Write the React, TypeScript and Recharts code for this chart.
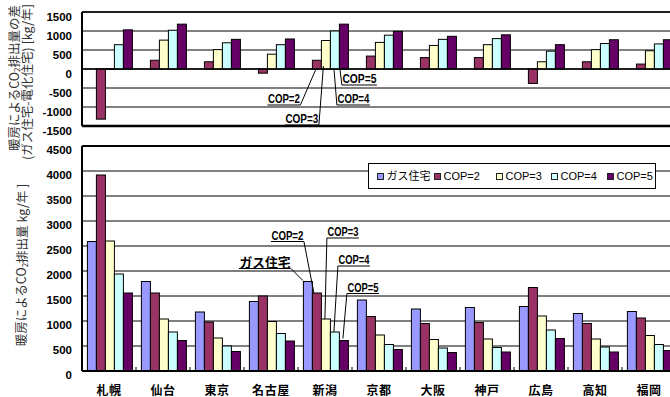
import { BarChart, Bar, XAxis, YAxis, CartesianGrid, ReferenceLine } from "recharts";

const cities = ["札幌", "仙台", "東京", "名古屋", "新潟", "京都", "大阪", "神戸", "広島", "高知", "福岡"];

// 暖房によるCO2排出量 [kg/年]
const gasHouse = [2590, 1790, 1180, 1390, 1790, 1420, 1240, 1270, 1290, 1150, 1190];
const electricCop2 = [3920, 1560, 980, 1500, 1560, 1090, 950, 970, 1670, 950, 1060];
const electricCop3 = [2600, 1040, 660, 990, 1040, 720, 630, 640, 1100, 640, 710];
const electricCop4 = [1940, 780, 500, 750, 780, 530, 460, 470, 820, 480, 530];
const electricCop5 = [1560, 610, 390, 600, 610, 430, 370, 380, 650, 380, 410];

// ガス住宅 - 電化住宅 [kg/年]
const diffCop2 = [-1320, 230, 190, -110, 230, 340, 300, 300, -380, 190, 130];
const diffCop3 = [-10, 760, 510, 390, 750, 700, 620, 640, 190, 510, 480];
const diffCop4 = [640, 1020, 690, 640, 1000, 890, 780, 800, 470, 670, 660];
const diffCop5 = [1030, 1180, 780, 790, 1180, 990, 860, 900, 640, 770, 770];

const diffTicks = [-1500, -1000, -500, 0, 500, 1000, 1500];
const emissionTicks = [0, 500, 1000, 1500, 2000, 2500, 3000, 3500, 4000, 4500];

const seriesKeys = ["gas", "cop2", "cop3", "cop4", "cop5"];
const seriesNames = ["ガス住宅", "COP=2", "COP=3", "COP=4", "COP=5"];
const seriesColors = ["#9999FF", "#993366", "#FFFFCC", "#CCFFFF", "#660066"];

const emissions = cities.map((city, i) => ({
  city,
  gas: gasHouse[i],
  cop2: electricCop2[i],
  cop3: electricCop3[i],
  cop4: electricCop4[i],
  cop5: electricCop5[i],
}));

const differences = cities.map((city, i) => ({
  city,
  cop2: diffCop2[i],
  cop3: diffCop3[i],
  cop4: diffCop4[i],
  cop5: diffCop5[i],
}));

const NUM_FONT = "'Liberation Sans', Arial, sans-serif";
const JP_FONT = "'Noto Sans CJK JP', 'Noto Sans', sans-serif";
const NARROW_FONT = "'Liberation Sans Narrow', 'Arial Narrow', 'Liberation Sans', sans-serif";

type Callout = {
  anchor: "top" | "bottom";
  from: [number, number];
  to: [number, number];
  side: "left" | "right";
  text: string;
  width: number;
};

const CALLOUT_CITY = "新潟";

// leader lines on the 新潟 bars, offsets from bar centre
const diffCallouts: Record<string, Callout> = {
  cop2: { anchor: "bottom", from: [-0.5, -1], to: [-16.5, 36], side: "left", text: "COP=2", width: 33 },
  cop3: { anchor: "bottom", from: [-2.5, -3], to: [-7, 56], side: "left", text: "COP=3", width: 34 },
  cop4: { anchor: "bottom", from: [-1, -1], to: [2, 36], side: "right", text: "COP=4", width: 33 },
  cop5: { anchor: "bottom", from: [-4, 0], to: [-2, 16], side: "right", text: "COP=5", width: 35 },
};

const emissionCallouts: Record<string, Callout> = {
  gas: { anchor: "top", from: [-5, -1], to: [-17, -13], side: "left", text: "ガス住宅", width: 52 },
  cop2: { anchor: "top", from: [-3, 0], to: [-13, -51.5], side: "left", text: "COP=2", width: 33 },
  cop3: { anchor: "top", from: [-1, 0], to: [1, -81], side: "right", text: "COP=3", width: 32 },
  cop4: { anchor: "top", from: [-1, 0], to: [3, -66], side: "right", text: "COP=4", width: 32 },
  cop5: { anchor: "top", from: [-1, -2], to: [3, -47], side: "right", text: "COP=5", width: 32 },
};

function CalloutMark({ cx, ay, c }: { cx: number; ay: number; c: Callout }) {
  const x1 = cx + c.from[0];
  const y1 = ay + c.from[1];
  const x2 = cx + c.to[0];
  const y2 = ay + c.to[1];
  const u1 = c.side === "left" ? x2 - c.width : x2;
  const u2 = c.side === "left" ? x2 : x2 + c.width;
  const cjk = /[^\x00-\x7f]/.test(c.text);
  return (
    <g>
      <line x1={x1} y1={y1} x2={x2} y2={y2} stroke="#000" strokeWidth={1} />
      <line x1={u1} y1={y2} x2={u2} y2={y2} stroke="#000" strokeWidth={1.2} />
      <text
        x={u1 + 0.5}
        y={y2 - 2}
        fontSize={cjk ? 13 : 12.5}
        fontWeight="bold"
        fontFamily={cjk ? JP_FONT : NARROW_FONT}
        textLength={c.width - 1}
        lengthAdjust="spacingAndGlyphs"
        fill="#000"
      >
        {c.text}
      </text>
    </g>
  );
}

const barShape = (callout?: Callout) => (props: any) => {
  const { x, y, width, height, fill, payload } = props;
  if (![x, y, width, height].every((v) => Number.isFinite(v))) return <g />;
  const top = Math.min(y, y + height);
  const h = Math.abs(height);
  const cx = x + width / 2;
  return (
    <g>
      {h > 0 && <rect x={x} y={top} width={width} height={h} fill={fill} stroke="#000" strokeWidth={1} />}
      {callout && payload?.city === CALLOUT_CITY && (
        <CalloutMark cx={cx} ay={callout.anchor === "top" ? top : top + h} c={callout} />
      )}
    </g>
  );
};

const valueTick = (dy: number) => (props: any) => {
  const { x, y, payload } = props;
  return (
    <text
      x={x}
      y={y + dy}
      textAnchor="end"
      dominantBaseline="central"
      fontSize={11.5}
      fontWeight="bold"
      fontFamily={NUM_FONT}
      fill="#000"
    >
      {payload.value}
    </text>
  );
};

const CityTick = (props: any) => {
  const { x, y, payload } = props;
  const half = payload?.offset ?? 27;
  const axisY = y - 8;
  return (
    <g>
      <line x1={x - half} x2={x - half} y1={axisY} y2={axisY - 4} stroke="#000" strokeWidth={1} />
      <text
        x={x}
        y={y + 10.5}
        textAnchor="middle"
        dominantBaseline="central"
        fontSize={12}
        fontWeight="bold"
        letterSpacing={0.6}
        fontFamily={JP_FONT}
        fill="#000"
      >
        {payload.value}
      </text>
    </g>
  );
};

const legendWidths = [57, 62, 55, 56, 48];

const SeriesLegend = () => (
  <div
    style={{
      position: "absolute",
      left: 368,
      top: 163,
      width: 288,
      height: 26,
      boxSizing: "border-box",
      border: "1.5px solid #000",
      background: "#fff",
      display: "flex",
      alignItems: "center",
      paddingLeft: 7.5,
    }}
  >
    {seriesNames.map((name, i) => (
      <div key={name} style={{ width: legendWidths[i], display: "flex", alignItems: "center" }}>
        <span
          style={{
            width: 7,
            height: 7,
            boxSizing: "border-box",
            background: seriesColors[i],
            border: "1px solid #222",
            display: "inline-block",
          }}
        />
        <span style={{ marginLeft: 3, fontSize: 11, fontFamily: `${NUM_FONT}, ${JP_FONT}`, color: "#000", lineHeight: "12px" }}>
          {name}
        </span>
      </div>
    ))}
  </div>
);

export default function App() {
  return (
    <div
      style={{
        position: "absolute",
        left: 0,
        top: 0,
        width: 670,
        height: 397,
        overflow: "hidden",
        background: "#fff",
      }}
    >
      {/* emission panel */}
      <div style={{ position: "absolute", left: 0, top: 130 }}>
        <BarChart
          width={680}
          height={267}
          data={emissions}
          margin={{ top: 16, right: 4, bottom: 0, left: 0 }}
          barCategoryGap="10%"
          barGap={0}
        >
          <CartesianGrid vertical={false} stroke="#000" strokeWidth={1} />
          <XAxis
            dataKey="city"
            height={26}
            tickLine={false}
            tickSize={6}
            tickMargin={2}
            axisLine={{ stroke: "#000", strokeWidth: 2 }}
            tick={CityTick}
            interval={0}
          />
          <YAxis
            type="number"
            domain={[0, 4500]}
            ticks={emissionTicks}
            width={82}
            tickLine={false}
            tickMargin={4}
            axisLine={{ stroke: "#000", strokeWidth: 2 }}
            tick={valueTick(3.5)}
            interval={0}
          />
          {seriesKeys.map((key, i) => (
            <Bar
              key={key}
              dataKey={key}
              name={seriesNames[i]}
              fill={seriesColors[i]}
              isAnimationActive={false}
              shape={barShape(emissionCallouts[key])}
            />
          ))}
          <ReferenceLine y={4500} stroke="#000" strokeWidth={2} />
        </BarChart>
      </div>

      {/* difference panel */}
      <div style={{ position: "absolute", left: 0, top: 0 }}>
        <BarChart
          width={680}
          height={140}
          data={differences}
          margin={{ top: 12, right: 4, bottom: 14, left: 0 }}
          barCategoryGap="10%"
          barGap={0}
        >
          <CartesianGrid vertical={false} stroke="#000" strokeWidth={1} />
          <XAxis dataKey="city" hide />
          <YAxis
            type="number"
            domain={[-1500, 1500]}
            ticks={diffTicks}
            width={82}
            tickLine={false}
            tickMargin={4}
            axisLine={{ stroke: "#000", strokeWidth: 2 }}
            tick={valueTick(4.5)}
            interval={0}
          />
          {/* empty slot keeps the difference bars aligned with the COP bars below */}
          <Bar dataKey="gas" fill="none" isAnimationActive={false} />
          {seriesKeys.slice(1).map((key, i) => (
            <Bar
              key={key}
              dataKey={key}
              fill={seriesColors[i + 1]}
              isAnimationActive={false}
              shape={barShape(diffCallouts[key])}
            />
          ))}
          <ReferenceLine y={0} stroke="#000" strokeWidth={1.3} />
          <ReferenceLine y={1500} stroke="#000" strokeWidth={1.6} />
          <ReferenceLine y={-1500} stroke="#000" strokeWidth={2.5} />
        </BarChart>
      </div>

      <SeriesLegend />

      {/* vertical axis titles */}
      <svg width={670} height={397} style={{ position: "absolute", left: 0, top: 0, pointerEvents: "none" }}>
        <g fontFamily={JP_FONT} fontSize={12.5} fill="#333">
          <text x={13} y={78} transform="rotate(-90 13 78)" textAnchor="middle" dominantBaseline="central">
            暖房によるCO<tspan fontSize={8} dy={3}>2</tspan>
            <tspan dy={-3}>排出量の差</tspan>
          </text>
          <text x={26} y={82} transform="rotate(-90 26 82)" textAnchor="middle" dominantBaseline="central">
            (ガス住宅-電化住宅) [kg/年]
          </text>
          <text x={20.5} y={265} transform="rotate(-90 20.5 265)" textAnchor="middle" dominantBaseline="central">
            暖房によるCO<tspan fontSize={8} dy={3}>2</tspan>
            <tspan dy={-3}>排出量 kg/年 ]</tspan>
          </text>
        </g>
      </svg>
    </div>
  );
}
